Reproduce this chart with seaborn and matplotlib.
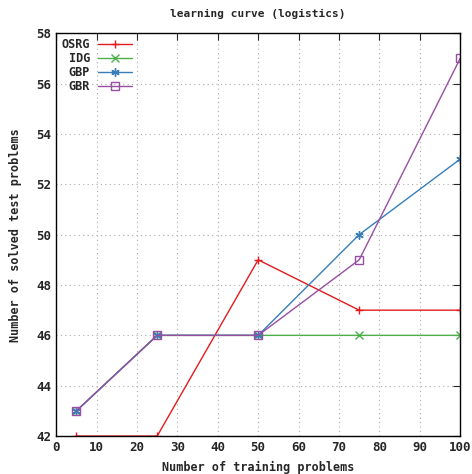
import pandas as pd
import matplotlib
matplotlib.use("Agg")
import matplotlib.pyplot as plt
import seaborn as sns

# data
train_sizes = [5, 25, 50, 75, 100]
osrg = [42, 42, 49, 47, 47]
idg = [43, 46, 46, 46, 46]
gbp = [43, 46, 46, 50, 53]
gbr = [43, 46, 46, 49, 57]

methods = ["OSRG", "IDG", "GBP", "GBR"]
colors = ["#e41a1c", "#4daf4a", "#377eb8", "#984ea3"]
markers = ["+", "x", (6, 2, 0), "s"]

df = pd.DataFrame({"size": train_sizes * 4,
                   "solved": osrg + idg + gbp + gbr,
                   "method": [m for m in methods for _ in train_sizes]})

sns.set_style("white")
plt.rcParams["font.family"] = ["DejaVu Sans Mono"]
plt.rcParams["font.weight"] = "bold"

fig = plt.figure(figsize=(4.72, 4.74), dpi=100)
ax = fig.add_axes([0.119, 0.080, 0.856, 0.850])

for m, c, mk in zip(methods, colors, markers):
    sub = df[df["method"] == m]
    sns.lineplot(data=sub, x="size", y="solved", ax=ax, color=c, marker=mk,
                 markersize=6, linewidth=1, label=m,
                 markerfacecolor="none" if mk == "s" else c,
                 markeredgecolor=c, markeredgewidth=1)

ax.set_xlim(0, 100)
ax.set_ylim(42, 58)
ax.set_xticks(range(0, 101, 10))
ax.set_yticks(range(42, 59, 2))
ax.tick_params(direction="in", top=True, right=True, length=5, labelsize=9)
for lbl in ax.get_xticklabels() + ax.get_yticklabels():
    lbl.set_fontweight("bold")
ax.grid(True, linestyle=(0, (1, 3)), color="#aaaaaa", linewidth=0.8)
for s in ax.spines.values():
    s.set_color("black")
    s.set_linewidth(1)

ax.set_title("learning curve (logistics)", fontsize=8, fontweight="bold", pad=12)
ax.set_xlabel("Number of training problems", fontsize=8.5, fontweight="bold", labelpad=5)
ax.set_ylabel("Number of solved test problems", fontsize=8.5, fontweight="bold", labelpad=10)

leg = ax.legend(loc="upper left", frameon=False, markerfirst=False, fontsize=8.5,
                handlelength=2.9, borderaxespad=0.05, labelspacing=0.08,
                handletextpad=0.7)
for t in leg.get_texts():
    t.set_fontweight("bold")

fig.savefig("out.png", dpi=100)
